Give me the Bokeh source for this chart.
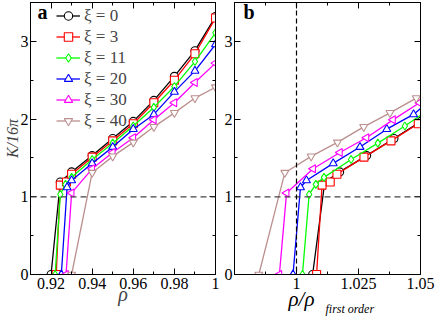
from bokeh.plotting import figure
from bokeh.layouts import row
from bokeh.models import LinearAxis, FixedTicker, Span, Label, Legend, LegendItem, Range1d, Title
from bokeh.embed import file_html
from bokeh.resources import INLINE
import math

# ---- data ----
xi_labels = ["ξ = 0", "ξ = 3", "ξ = 11", "ξ = 20", "ξ = 30", "ξ = 40"]
colors = ["#000000", "#ff0000", "#00ff00", "#0000ff", "#ff00ff", "#bc8f8f"]
markers = ["circle", "square", "diamond", "triangle", "triangle", "inverted_triangle"]
angles = [0, 0, 0, 0, math.pi / 2, 0]

rho_0 = [0.920, 0.9245, 0.93, 0.94, 0.95, 0.96, 0.97, 0.98, 0.99, 1.0]
K_0 = [0.0, 1.19, 1.32, 1.53, 1.75, 1.97, 2.24, 2.55, 2.88, 3.32]
rho_3 = [0.9225, 0.9245, 0.9275, 0.93, 0.94, 0.95, 0.96, 0.97, 0.98, 0.99, 1.0]
K_3 = [0.0, 1.15, 1.19, 1.29, 1.51, 1.72, 1.94, 2.21, 2.50, 2.84, 3.30]
rho_11 = [0.922, 0.9245, 0.927, 0.93, 0.94, 0.95, 0.96, 0.97, 0.98, 0.99, 1.0]
K_11 = [0.0, 1.03, 1.16, 1.25, 1.48, 1.69, 1.91, 2.15, 2.42, 2.74, 3.11]
rho_20 = [0.925, 0.9278, 0.93, 0.94, 0.95, 0.96, 0.97, 0.98, 0.99, 1.0]
K_20 = [0.0, 1.12, 1.21, 1.43, 1.64, 1.87, 2.06, 2.35, 2.62, 2.96]
rho_30 = [0.9273, 0.93, 0.94, 0.95, 0.96, 0.97, 0.98, 0.99, 1.0]
K_30 = [0.0, 1.05, 1.36, 1.57, 1.76, 1.99, 2.21, 2.47, 2.72]
rho_40 = [0.930, 0.94, 0.95, 0.96, 0.97, 0.98, 0.99, 1.0]
K_40 = [0.0, 1.31, 1.52, 1.70, 1.90, 2.08, 2.27, 2.41]

# rho / rho_first_order (panel b)
r_0 = [1.0065, 1.0114, 1.0174, 1.0283, 1.0393, 1.0502, 1.0612, 1.0721, 1.0830, 1.0940]
r_3 = [1.0081, 1.0103, 1.0136, 1.0163, 1.0272, 1.0381, 1.0491, 1.0600, 1.0709, 1.0818, 1.0928]
r_11 = [1.0024, 1.0051, 1.0078, 1.0111, 1.0220, 1.0328, 1.0437, 1.0546, 1.0654, 1.0763, 1.0872]
r_20 = [0.9986, 1.0016, 1.0040, 1.0148, 1.0256, 1.0364, 1.0472, 1.0580, 1.0688, 1.0796]
r_30 = [0.9931, 0.9960, 1.0067, 1.0175, 1.0282, 1.0389, 1.0496, 1.0603, 1.0710]
r_40 = [0.9848, 0.9953, 1.0059, 1.0165, 1.0271, 1.0377, 1.0483, 1.0589]

a_xticks = [0.92, 0.94, 0.96, 0.98, 1.0]
a_xminor = [0.91, 0.93, 0.95, 0.97, 0.99]
a_xlabels = {0.92: "0.92", 0.94: "0.94", 0.96: "0.96", 0.98: "0.98", 1.0: "1"}
b_xticks = [1.0, 1.025, 1.05]
b_xminor = [0.9875, 1.0125, 1.0375]
b_xlabels = {1.0: "1", 1.025: "1.025", 1.05: "1.05"}
yticks = [0, 1, 2, 3]
yminor = [0.5, 1.5, 2.5, 3.5]

series_a = [(rho_0, K_0), (rho_3, K_3), (rho_11, K_11), (rho_20, K_20), (rho_30, K_30), (rho_40, K_40)]
series_b = [(r_0, K_0), (r_3, K_3), (r_11, K_11), (r_20, K_20), (r_30, K_30), (r_40, K_40)]

FONT = "Liberation Serif"
TICK_FS = "16px"


def make_axis(ticks, minor, show_labels, standoff=3, overrides=None):
    ax = LinearAxis(ticker=FixedTicker(ticks=ticks, minor_ticks=minor))
    ax.major_tick_in = 6
    ax.major_tick_out = 0
    ax.minor_tick_in = 3
    ax.minor_tick_out = 0
    ax.axis_line_color = "black"
    ax.major_tick_line_color = "black"
    ax.minor_tick_line_color = "black"
    if show_labels:
        ax.major_label_text_font = FONT
        ax.major_label_text_font_size = TICK_FS
        ax.major_label_text_color = "black"
        ax.major_label_standoff = standoff
        if overrides:
            ax.major_label_overrides = overrides
    else:
        ax.major_label_text_color = None
        ax.major_label_text_font_size = "1px"
        ax.major_label_standoff = 0
    return ax


def make_panel(xr, xt, xm, xl, series, width, mbl, mbr):
    p = figure(width=width, height=316, x_range=Range1d(*xr), y_range=Range1d(0, 3.5),
               x_axis_type=None, y_axis_type=None,
               output_backend="svg", toolbar_location=None,
               min_border_left=mbl, min_border_right=mbr, min_border_top=2, min_border_bottom=42)
    p.outline_line_color = "black"
    p.outline_line_width = 1
    p.background_fill_color = "white"
    bottom = make_axis(xt, xm, True, 3, xl)
    left = make_axis(yticks, yminor, True, 2)
    p.add_layout(bottom, "below")
    p.add_layout(left, "left")
    p.add_layout(make_axis(xt, xm, False), "above")
    p.add_layout(make_axis(yticks, yminor, False), "right")
    p.add_layout(Span(location=1, dimension="width", line_color="#444444",
                      line_dash="6 4", line_width=1.3))
    items = []
    for i, (xs, ys) in enumerate(series):
        l = p.line(xs, ys, line_color=colors[i], line_width=1.3)
        s = p.scatter(xs, ys, marker=markers[i], angle=angles[i], size=8,
                      line_color=colors[i], fill_color="white", line_width=1.1)
        items.append(LegendItem(label=xi_labels[i], renderers=[l, s]))
    return p, items, bottom, left


pa, items, a_bottom, a_left = make_panel((0.91, 1.0), a_xticks, a_xminor, a_xlabels, series_a, 220, 29, 5)
pb, _, b_bottom, b_left = make_panel((0.975, 1.05), b_xticks, b_xminor, b_xlabels, series_b, 216, 14, 16)

a_left.axis_label = "K/16π"
a_left.axis_label_text_font = FONT
a_left.axis_label_text_font_style = "italic"
a_left.axis_label_text_font_size = "16px"
a_left.axis_label_standoff = -3

a_bottom.axis_label = "ρ"
a_bottom.axis_label_text_font = FONT
a_bottom.axis_label_text_font_style = "italic"
a_bottom.axis_label_text_font_size = "20px"
a_bottom.axis_label_standoff = -9

legend = Legend(items=items, location=(26, 143))
legend.label_text_font = FONT
legend.label_text_font_size = "17px"
legend.glyph_width = 24
legend.glyph_height = 21
legend.label_height = 21
legend.label_standoff = 4
legend.spacing = 0
legend.padding = 0
legend.margin = 0
legend.border_line_alpha = 0
legend.background_fill_alpha = 0
pa.add_layout(legend)

pa.add_layout(Label(x=0.9134, y=3.24, text="a", text_font=FONT, text_font_style="bold",
                    text_font_size="20px", text_color="black"))
pb.add_layout(Label(x=0.9786, y=3.23, text="b", text_font=FONT, text_font_style="bold",
                    text_font_size="20px", text_color="black"))

pb.add_layout(Span(location=1, dimension="height", line_color="black",
                   line_dash="5 3", line_width=1.2))

t1 = Title(text="ρ/ρ", align="left", offset=54, standoff=-13, text_font=FONT,
           text_font_style="italic", text_font_size="21px", text_color="black")
t2 = Title(text="first order", align="left", offset=91, standoff=-10, text_font=FONT,
           text_font_style="italic", text_font_size="12px", text_color="black")
pb.add_layout(t1, "below")
pb.add_layout(t2, "below")

layout = row(pa, pb)
open("out.html", "w").write(file_html(layout, INLINE))
